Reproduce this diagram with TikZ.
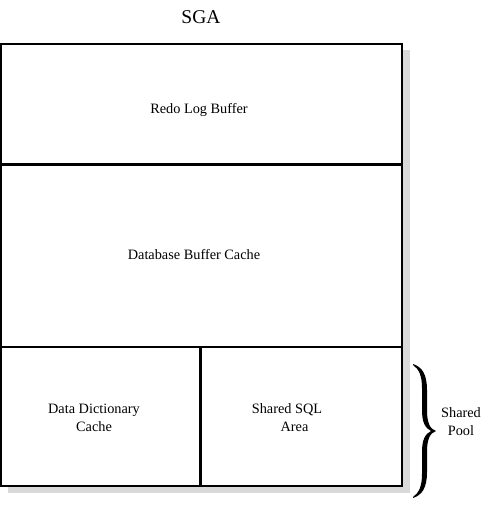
\documentclass[tikz,border=0pt]{standalone}
\usepackage{fontspec}
\setmainfont{Liberation Serif}
\begin{document}
\begin{tikzpicture}[x=1pt,y=-1pt,
  frame/.style={draw=black,line width=2.4pt},
  lbl/.style={font=\fontsize{14.3}{18}\selectfont,align=center,inner sep=0pt},
  shadow/.style={fill=black!15,draw=none}]
\useasboundingbox (0,0) rectangle (492,511);
% shadow
\fill[shadow] (8,50) rectangle (410,493);
% main box
\filldraw[frame,fill=white] (1.2,44) rectangle (402,486);
\draw[frame] (1.2,164.5) -- (402,164.5);
\draw[frame] (1.2,347) -- (402,347);
\draw[frame] (200.5,347) -- (200.5,486);
% labels
\node[font=\fontsize{19.5}{22}\selectfont,inner sep=0pt] (sga) at (201,17) {SGA};
\node[lbl] (redo) at (199,110) {Redo Log Buffer};
\node[lbl] (dbc) at (194,255) {Database Buffer Cache};
\node[lbl] (ddc) at (94,418) {Data Dictionary\\Cache};
\node[lbl] (sql) at (287,418) {Shared SQL\\\hspace*{15pt}Area};
% brace
\fill[black] (413,364) .. controls (422,367) and (427,374) .. (427,390)
  -- (427,410) .. controls (427,423) and (430,429) .. (436,431)
  .. controls (430,433) and (427,439) .. (427,452)
  -- (427,472) .. controls (427,488) and (422,495) .. (413,498)
  -- (413,497) .. controls (419,493) and (422,486) .. (422,474)
  -- (422,452) .. controls (422,440) and (425,434) .. (431,431)
  .. controls (425,428) and (422,422) .. (422,410)
  -- (422,388) .. controls (422,376) and (419,369) .. (413,365) -- cycle;
\node[lbl] (pool) at (461,422) {Shared\\Pool};
\end{tikzpicture}
\end{document}
